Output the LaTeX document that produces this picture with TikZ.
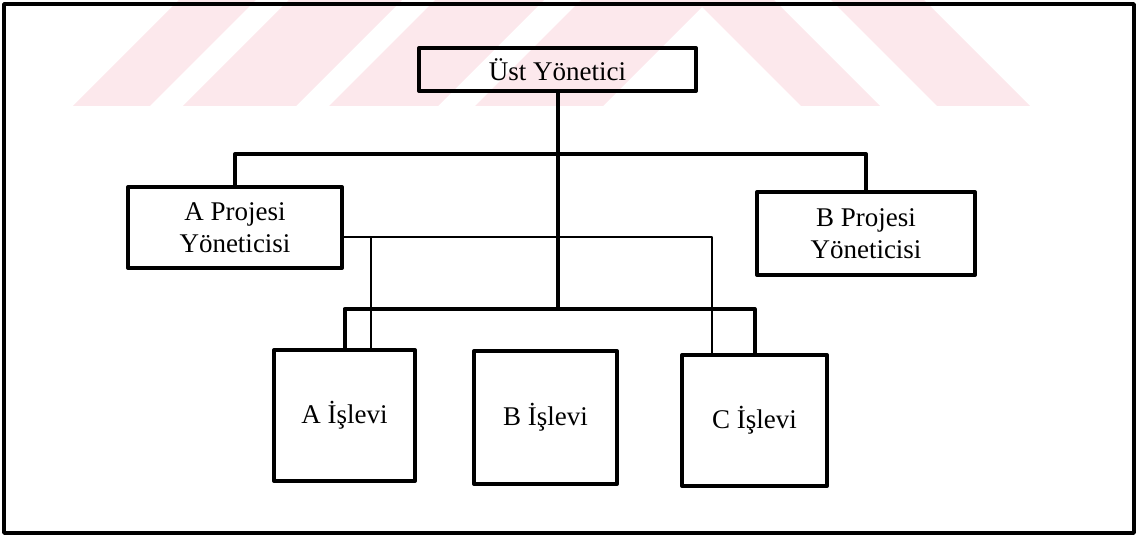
\documentclass[tikz,border=0pt]{standalone}
\usepackage{fontspec}
\setmainfont{Liberation Serif}
\usepackage{tikz}
\usetikzlibrary{positioning}
\definecolor{filigranpembe}{RGB}{252,232,236}
\tikzset{
  every picture/.style={line join=round, line cap=round},
  kutu/.style={draw, line width=1mm, inner sep=0pt, align=center, font=\fontsize{19.2}{23}\selectfont},
  kalin/.style={line width=1mm},
  ince/.style={line width=0.5mm},
  cerceve/.style={line width=0.9mm},
  filigran/.style={fill=filigranpembe},
}

\begin{document}
\begin{tikzpicture}[x=0.25mm,y=-0.25mm]
\useasboundingbox (0,0) rectangle (1138,537);
% watermark
\foreach \a/\b in {73/150,183/296,329/438,475/603}
  \fill[filigran] (\a,106) -- (\b,106) -- (\b+106,0) -- (\a+106,0) -- cycle;
\foreach \a/\b in {801/880,937/1030}
  \fill[filigran] (\a,106) -- (\b,106) -- (\b-106,0) -- (\a-106,0) -- cycle;
\draw[cerceve] (4,4) rectangle (1134,533);
% boxes
\node[kutu, minimum width=69.25mm, minimum height=10.75mm] (ust) at (557.5,69.5) {Üst Yönetici};
\node[kutu, minimum width=53.5mm, minimum height=20.25mm] (aproje) at (235,227.5) {A Projesi\\Yöneticisi};
\node[kutu, minimum width=54.5mm, minimum height=20.75mm] (bproje) at (866,233.5) {B Projesi\\Yöneticisi};
\node[kutu, minimum width=35.25mm, minimum height=32.75mm] (aislev) at (344.5,415.5) {A İşlevi};
\node[kutu, minimum width=35.75mm, minimum height=33.25mm] (bislev) at (545.5,417.5) {B İşlevi};
\node[kutu, minimum width=36.25mm, minimum height=32.75mm] (cislev) at (754.5,420.5) {C İşlevi};
% connectors
\coordinate (ustbag) at (557.5,154);
\coordinate (altbag) at (557.5,309);
\coordinate (inceA) at (371,237);
\coordinate (inceC) at (712,237);
\draw[kalin] (ust.south) -- (altbag);
\draw[kalin] (aproje.north) |- (ustbag) -| (bproje.north);
\draw[kalin] (aislev.north) |- (altbag) -| (cislev.north);
\draw[ince] (aproje.east |- inceA) -- (inceC) -- (inceC |- cislev.north);
\draw[ince] (inceA) -- (inceA |- aislev.north);
\end{tikzpicture}
\end{document}
